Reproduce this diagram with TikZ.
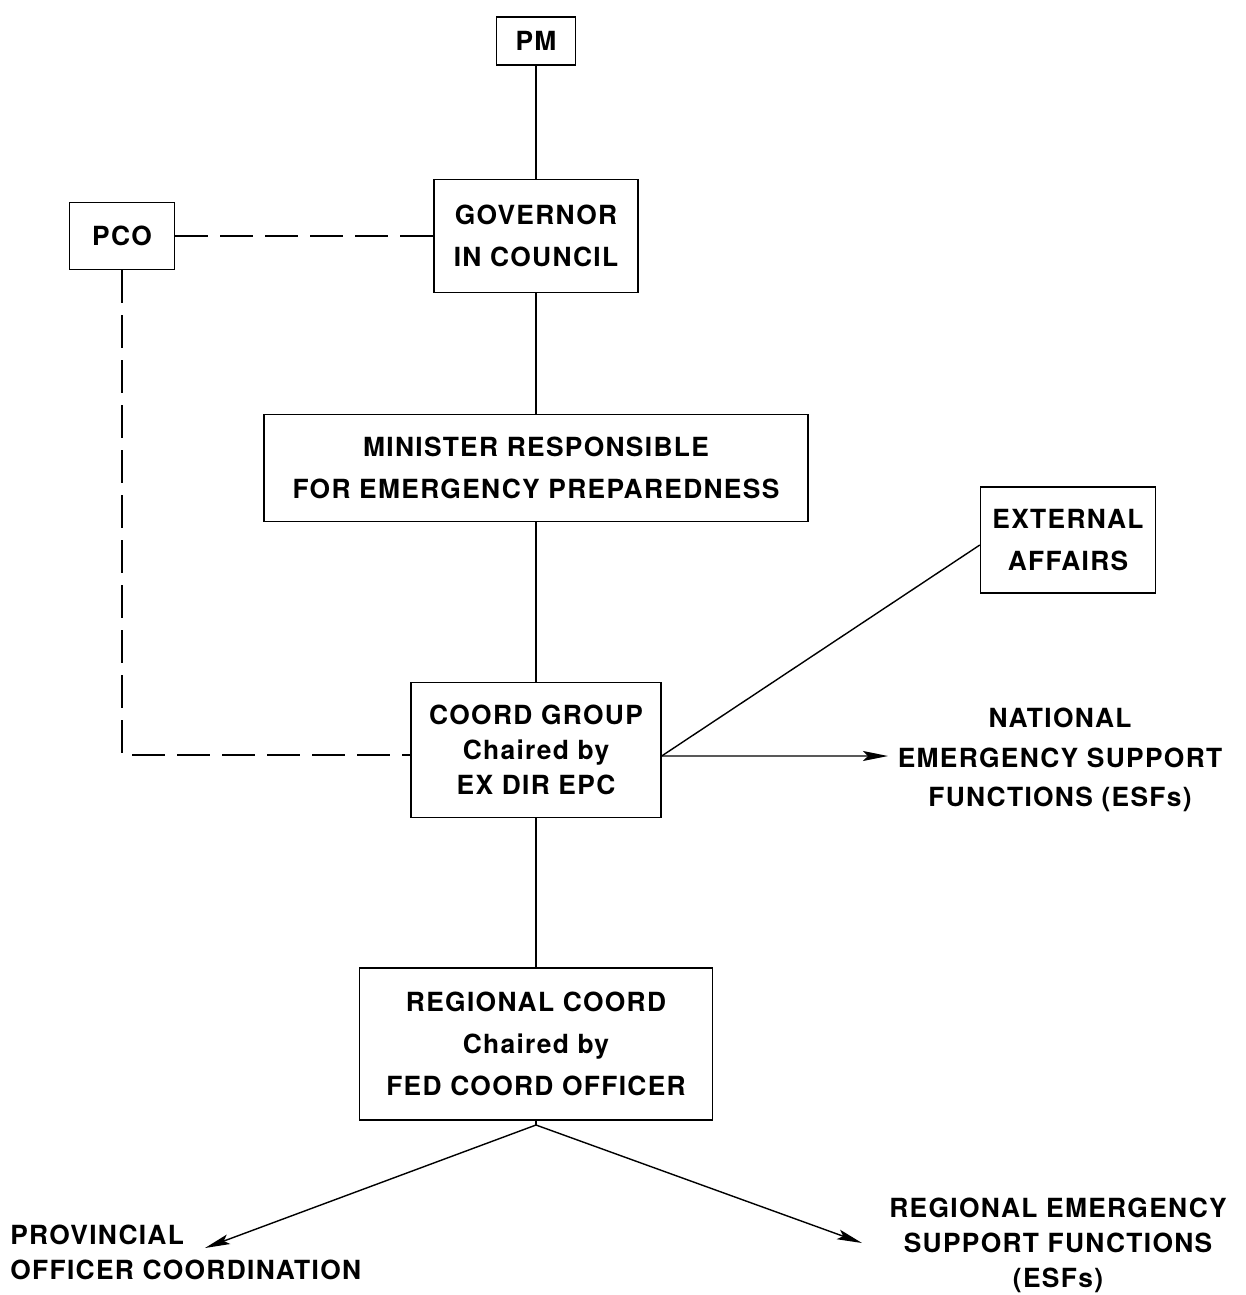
\documentclass[tikz,border=0pt]{standalone}
\usepackage{fontspec}
\setmainfont{TeX Gyre Heros}[LetterSpace=5]
\usetikzlibrary{arrows.meta}

\tikzset{
  box/.style={draw, line width=0.8pt, align=center, inner sep=0pt},
  label/.style={align=center, inner sep=0pt},
  link/.style={line width=0.8pt},
  dashlink/.style={line width=0.8pt, dash pattern=on 0.66cm off 0.24cm},
  tip/.style={-{Stealth[length=5mm,width=2mm,inset=1mm]}}
}

\begin{document}
\begin{tikzpicture}[x=0.02cm,y=-0.02cm,font=\fontsize{15}{23.5}\selectfont\bfseries]
\useasboundingbox (0,0) rectangle (1246,1295);

\node[box, minimum width=1.58cm, minimum height=0.96cm] (pm) at (536,41) {PM};
\node[box, minimum width=4.08cm, minimum height=2.26cm] (gov) at (536,236) {GOVERNOR\\IN COUNCIL};
\node[box, minimum width=2.1cm, minimum height=1.34cm] (pco) at (122,236) {PCO};
\node[box, minimum width=10.88cm, minimum height=2.14cm] (min) at (536,468) {MINISTER RESPONSIBLE\\FOR EMERGENCY PREPAREDNESS};
\node[box, minimum width=3.5cm, minimum height=2.12cm] (ext) at (1068,540) {EXTERNAL\\AFFAIRS};
\node[box, minimum width=5cm, minimum height=2.7cm, font=\fontsize{15}{20}\selectfont\bfseries] (coord) at (536,750) {COORD GROUP\\Chaired by\\EX DIR EPC};
\node[box, minimum width=7.06cm, minimum height=3.04cm, font=\fontsize{15}{24}\selectfont\bfseries] (reg) at (536,1044) {REGIONAL COORD\\Chaired by\\FED COORD OFFICER};

\node[label, font=\fontsize{15}{22.5}\selectfont\bfseries] (nat) at (1060,760) {NATIONAL\\EMERGENCY SUPPORT\\FUNCTIONS (ESFs)};
\node[label, align=left, anchor=west, font=\fontsize{15}{20}\selectfont\bfseries] (prov) at (10,1252) {PROVINCIAL\\OFFICER COORDINATION};
\node[label, font=\fontsize{15}{20}\selectfont\bfseries] (resf) at (1058,1245) {REGIONAL EMERGENCY\\SUPPORT FUNCTIONS\\(ESFs)};

\coordinate (junc) at ([yshift=-0.12cm]coord.east);
\coordinate (natend) at (888,756);
\coordinate (fork) at (536,1125);
\coordinate (provend) at (205,1248);
\coordinate (resfend) at (862,1243);

\draw[link] (pm) -- (gov);
\draw[link] (gov) -- (min);
\draw[link] (min) -- (coord);
\draw[link] (coord) -- (reg);
\draw[dashlink] (pco.east) -- (gov.west);
\draw[dashlink] (pco.south) |- ([yshift=-0.1cm]coord.west);
\draw[link] (junc) -- ([yshift=-0.1cm]ext.west);
\draw[link, tip] (junc) -- (natend);
\draw[link] (reg.south) -- (fork);
\draw[link, tip] (fork) -- (provend);
\draw[link, tip] (fork) -- (resfend);
\end{tikzpicture}
\end{document}
